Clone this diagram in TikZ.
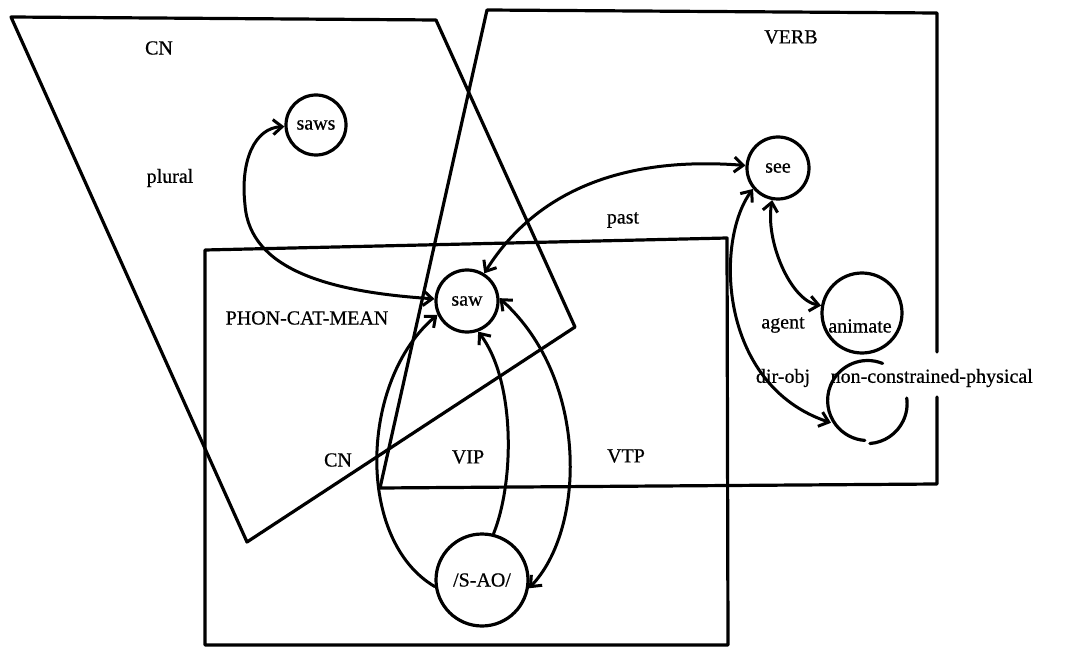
\documentclass[tikz,border=0pt]{standalone}
\usepackage{fontspec}
\setmainfont{Liberation Serif}
\newfontfamily\lblfont{Liberation Serif}[FakeBold=0.6]
\usetikzlibrary{arrows.meta}
\begin{document}
\begin{tikzpicture}[x=1pt,y=-1pt,
  line width=3.2pt, line join=round, line cap=round,
  every node/.style={font=\lblfont\fontsize{20}{24}\selectfont, inner sep=0pt},
  state/.style={circle, draw, line width=3.2pt, inner sep=0pt},
  ghost/.style={circle, draw=none, inner sep=0pt},
  region/.style={line width=3.2pt},
  link/.style={line width=3pt},
  >={Straight Barb[length=9pt,width=15pt]}]
\useasboundingbox (0,0) rectangle (1071,647);

% --- regions -------------------------------------------------------
% CN region
\draw[region] (11,17) -- (436,20) -- (575,327) -- (247,542) -- cycle;
% VERB region (right edge broken where the long label crosses it)
\draw[region] (937,352) -- (937,13) -- (487,10) -- (380,488) -- (937,484) -- (937,397);
% PHON-CAT-MEAN region
\draw[region] (205,250) -- (727,238) -- (728,645) -- (205,645) -- cycle;

% --- nodes ---------------------------------------------------------
\node[state, minimum size=60pt] (saws) at (316,125) {saws};
\node[state, minimum size=62pt] (saw)  at (467,301) {saw};
\node[state, minimum size=62pt] (see)  at (778,168) {see};
\node[state, minimum size=80pt] (animate) at (862,313) {};
\node[ghost, minimum size=80pt] (nonc) at (867,402) {};
\node[state, minimum size=92pt] (sao)  at (482,580) {/S-AO/};

% broken outline of the non-constrained-physical node
\begin{scope}[y=1pt]
  \draw (nonc.68) arc[start angle=68, end angle=266, radius=40];
  \draw (nonc.274) arc[start angle=274, end angle=368, radius=40];
\end{scope}

% --- labels --------------------------------------------------------
\node (lcn)   at (159,48)  {CN};
\node (lplu)  at (170,178) {plural};
\node (lverb) at (791,37)  {VERB};
\node (lpast) at (623,220) {past};
\node (lphon) at (307,318) {PHON-CAT-MEAN};
\node (lagt)  at (783,325) {agent};
\node (lani)  at (860,326) {animate};
\node (ldir)  at (783,378) {dir-obj};
\node[anchor=west] (lnon) at (829,378) {non-constrained-physical};
\node (lcn2)  at (338,460) {CN};
\node (lvip)  at (468,457) {VIP};
\node (lvtp)  at (626,456) {VTP};

% --- connectors ----------------------------------------------------
% plural: saw <-> saws
\draw[link,<->] (saws) .. controls (255,128) and (240,160) .. (245,205)
      .. controls (250,270) and (330,292) .. (saw);
% past: saw <-> see
\draw[link,<->] (saw) .. controls (530,200) and (610,155) .. (see);
% agent: see <-> animate
\draw[link,<->] (see) .. controls (765,240) and (790,300) .. (animate);
% dir-obj: see <-> non-constrained-physical
\draw[link,<->] (see.220) .. controls (715,240) and (718,385) .. (nonc.210);
% CN: /S-AO/ -> saw
\draw[link,->] (sao.188) .. controls (355,540) and (360,380) .. (saw.205);
% VIP: /S-AO/ -> saw
\draw[link,->] (sao.76) .. controls (515,480) and (515,380) .. (saw.290);
% VTP: /S-AO/ <-> saw
\draw[link,<->] (sao.350) .. controls (585,530) and (590,380) .. (saw.5);
\end{tikzpicture}
\end{document}
